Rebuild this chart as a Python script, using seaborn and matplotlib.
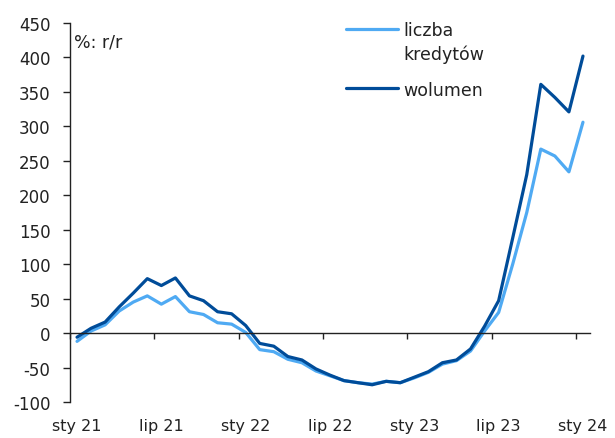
import numpy as np
import pandas as pd
import matplotlib
matplotlib.use("Agg")
import matplotlib.pyplot as plt
import seaborn as sns

months = ["sty", "lut", "mar", "kwi", "maj", "cze", "lip", "sie", "wrz", "paź", "lis", "gru"]
periods = [f"{m} {y}" for y in ["21", "22", "23"] for m in months] + ["sty 24"]

liczba = [-12, 3, 12, 32, 45, 54, 42, 53, 31, 27, 15, 13,
          1, -24, -27, -38, -43, -55, -62, -69, -72, -74, -70, -72,
          -65, -57, -45, -40, -26, 3, 30, 100, 175, 267, 257, 234, 306]
wolumen = [-6, 7, 16, 38, 58, 79, 69, 80, 54, 47, 31, 28,
           11, -15, -19, -34, -39, -52, -61, -69, -72, -75, -70, -72,
           -64, -56, -43, -39, -23, 10, 47, 138, 230, 361, 342, 321, 402]
series_names = ["liczba kredytów", "wolumen"]
legend_lines = ["liczba", "kredytów", "wolumen"]
colors = ["#4FAAF3", "#004C99"]
tick_labels = ["sty 21", "lip 21", "sty 22", "lip 22", "sty 23", "lip 23", "sty 24"]

df = pd.DataFrame({
    "idx": list(range(len(periods))) * 2,
    "value": liczba + wolumen,
    "series": [series_names[0]] * len(liczba) + [series_names[1]] * len(wolumen),
})

sns.set_style("white")
plt.rcParams["font.family"] = ["DejaVu Sans"]
plt.rcParams["font.size"] = 11.5
plt.rcParams["axes.unicode_minus"] = False

fig = plt.figure(figsize=(6.15, 4.39), dpi=100)
ax = fig.add_axes([70 / 615, 1 - 403 / 439, 520 / 615, 379 / 439])

sns.lineplot(data=df, x="idx", y="value", hue="series", palette=colors,
             linewidth=2.3, ax=ax, legend=False)

ax.set_xlim(-0.5, len(periods) - 0.5)
ax.set_ylim(-100, 450)
ax.set_yticks(np.arange(-100, 451, 50))
ax.set_xlabel("")
ax.set_ylabel("")

for s in ["top", "right"]:
    ax.spines[s].set_visible(False)
ax.spines["bottom"].set_position(("data", 0))
ax.spines["bottom"].set_color("#222222")
ax.spines["left"].set_color("#222222")
ax.spines["bottom"].set_linewidth(1.0)
ax.spines["left"].set_linewidth(1.0)

label_pos = [periods.index(t) for t in tick_labels]
ax.set_xticks([p - 0.5 for p in label_pos])
ax.set_xticklabels([])
ax.set_xticks(label_pos, minor=True)
ax.set_xticklabels(tick_labels, minor=True)
ax.tick_params(axis="x", which="major", bottom=True, direction="out", length=4,
               width=1, color="#222222")
ax.tick_params(axis="x", which="minor", bottom=True, length=0, pad=61,
               labelsize=11.5, labelcolor="#222222")
ax.tick_params(axis="y", left=True, direction="out", length=5, width=1, color="#222222",
               labelsize=12, labelcolor="#222222", pad=9)

ax.text(0.007, 0.975, "%: r/r", transform=ax.transAxes, fontsize=12.5,
        color="#222222", va="top", ha="left")

handles = ax.get_lines()[:2]
leg = ax.legend(handles, [legend_lines[0], legend_lines[2]], loc="upper left",
                bbox_to_anchor=(332 / 615, 1 - 8 / 439), bbox_transform=fig.transFigure,
                frameon=False, handlelength=3.0, handletextpad=0.3,
                labelspacing=2.4, fontsize=12.5, borderpad=0.3)
for t in leg.get_texts():
    t.set_color("#222222")

fig.canvas.draw()
bb = leg.get_texts()[0].get_window_extent()
x0, y0 = fig.transFigure.inverted().transform((bb.x0, bb.y0))
fig.text(x0, y0 - 6 / 439, legend_lines[1], fontsize=12.5, color="#222222",
         ha="left", va="top")

fig.savefig("out.png", dpi=100)
